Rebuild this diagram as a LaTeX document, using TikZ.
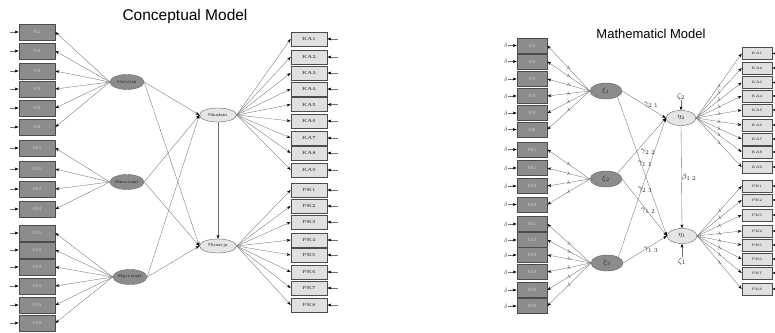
\documentclass[tikz,border=0pt]{standalone}
\usepackage{fontspec}
\newfontfamily\titlefont{Liberation Sans}
\usetikzlibrary{arrows.meta,shapes.geometric,calc}
\begin{document}
\begin{tikzpicture}[x=1pt,y=-1pt,
  lbox/.style={draw=black!70, line width=0.7pt, fill=black!45, minimum width=36pt, minimum height=16pt, inner sep=0pt, text=black!22, font=\titlefont\fontsize{4.5}{4.5}\selectfont},
  rbox/.style={draw=black!70, line width=0.7pt, fill=black!12, minimum width=36pt, minimum height=14pt, inner sep=0pt, text=black!70, font=\bfseries\fontsize{4.5}{4.5}\selectfont},
  mlbox/.style={lbox, minimum width=30pt, minimum height=15pt},
  mrbox/.style={rbox, minimum width=30pt, minimum height=12pt},
  lell/.style={ellipse, draw=black!60, line width=0.4pt, fill=black!45, minimum width=34pt, minimum height=15pt, inner sep=0pt, font=\ttfamily\fontsize{4.5}{4.5}\selectfont, text=black!85},
  rell/.style={ellipse, draw=black!60, line width=0.4pt, fill=black!10, minimum width=37pt, minimum height=14pt, inner sep=0pt, font=\ttfamily\fontsize{4.5}{4.5}\selectfont, text=black!85},
  mlell/.style={lell, minimum width=32pt, minimum height=16pt, font=\fontsize{7}{7}\selectfont},
  mrell/.style={rell, minimum width=30pt, minimum height=15pt, font=\fontsize{7}{7}\selectfont},
  arr/.style={-{Stealth[length=4pt,width=2.8pt,black]}, draw=black!55, line width=0.35pt},
  lam/.style={font=\fontsize{5.5}{5.5}\selectfont, inner sep=0.3pt, text=black!75},
  glab/.style={font=\fontsize{8.5}{8.5}\selectfont, inner sep=0pt, text=black!85},
  ttl/.style={font=\titlefont\fontsize{15.5}{15.5}\selectfont, inner sep=0pt}
]
\useasboundingbox (0,0) rectangle (775,332);

% ================= Conceptual model =================
\node[ttl] (t1) at (185,16) {Conceptual Model};

\foreach \n/\yy in {KI1/32,KI2/51,KI3/71,KI4/89,KI5/108,KI6/127,KE1/148,KE2/169,KE3/189,KE4/209,KS1/233,KS2/250,KS3/267,KS4/286,KS5/305,KS6/323}{
  \node[lbox] (c\n) at (37,\yy) {\n};
  \coordinate (ci\n) at (10,\yy);
  \draw[arr] (ci\n) -- (c\n.west);
}
\foreach \n/\yy in {KA1/39,KA2/57,KA3/73,KA4/89,KA5/104.5,KA6/121,KA7/138,KA8/153,KA9/170,PK1/190,PK2/206,PK3/222,PK4/240,PK5/255,PK6/272,PK7/288,PK8/305}{
  \node[rbox] (c\n) at (309,\yy) {\n};
  \coordinate (ci\n) at (338,\yy);
  \draw[arr] (ci\n) -- (c\n.east);
}

\node[lell] (cKI) at (127,82) {KIntelek};
\node[lell] (cKE) at (127,182) {KEmosional};
\node[lell] (cKS) at (130,277) {KSpiritual};
\node[rell] (cPA) at (218,115) {PAkademi};
\node[rell] (cPK) at (218,246) {PKinerja};

\foreach \n in {KI1,KI2,KI3,KI4,KI5,KI6} \draw[arr] (cKI.west) -- (c\n.east);
\foreach \n in {KE1,KE2,KE3,KE4} \draw[arr] (cKE.west) -- (c\n.east);
\foreach \n in {KS1,KS2,KS3,KS4,KS5,KS6} \draw[arr] (cKS.west) -- (c\n.east);
\foreach \n in {KA1,KA2,KA3,KA4,KA5,KA6,KA7,KA8,KA9} \draw[arr] (cPA.east) -- (c\n.west);
\foreach \n in {PK1,PK2,PK3,PK4,PK5,PK6,PK7,PK8} \draw[arr] (cPK.east) -- (c\n.west);

\foreach \s in {cKI,cKE,cKS}{
  \draw[arr] (\s.east) -- (cPA.west);
  \draw[arr] (\s.east) -- (cPK.west);
}
\draw[arr] (cPA.south) -- (cPK.north);

% ================= Mathematical model =================
\node[ttl, font=\titlefont\fontsize{13}{13}\selectfont] (t2) at (651,34) {Mathematicl Model};

\foreach \n/\yy in {KI1/45.5,KI2/61.5,KI3/79,KI4/96,KI5/113,KI6/129.5,KE1/149.5,KE2/168,KE3/186,KE4/204.5,KS1/224,KS2/240,KS3/255,KS4/272,KS5/290,KS6/306}{
  \node[mlbox] (m\n) at (532,\yy) {\n};
  \node[font=\fontsize{6.5}{6.5}\selectfont, inner sep=0pt, text=black!75] (d\n) at (506,\yy) {$\delta$};
  \draw[arr] (d\n.east) -- (m\n.west);
}
\foreach \n/\yy in {KA1/53.5,KA2/68,KA3/82.5,KA4/96,KA5/110,KA6/125,KA7/139,KA8/152,KA9/167,PK1/186,PK2/200,PK3/215,PK4/231,PK5/245,PK6/259,PK7/273,PK8/289}{
  \node[mrbox, font=\bfseries\fontsize{3.5}{3.5}\selectfont] (m\n) at (757,\yy) {\n};
  \coordinate (mi\n) at (779,\yy);
  \draw[arr] (mi\n) -- (m\n.east);
}

\node[mlell] (xi1) at (606,91) {$\xi_1$};
\node[mlell] (xi2) at (606,179) {$\xi_2$};
\node[mlell] (xi3) at (607,263) {$\xi_3$};
\node[mrell] (eta2) at (681,118) {$\eta_2$};
\node[mrell] (eta1) at (682,236) {$\eta_1$};

\foreach \n in {KI1,KI2,KI3,KI4,KI5,KI6} \draw[arr] (xi1.west) -- node[lam, pos=0.5]{$\lambda$} (m\n.east);
\foreach \n in {KE1,KE2,KE3,KE4} \draw[arr] (xi2.west) -- node[lam, pos=0.5]{$\lambda$} (m\n.east);
\foreach \n in {KS1,KS2,KS3,KS4,KS5,KS6} \draw[arr] (xi3.west) -- node[lam, pos=0.5]{$\lambda$} (m\n.east);
\foreach \n in {KA1,KA2,KA3,KA4,KA5,KA6,KA7,KA8,KA9} \draw[arr] (eta2.east) -- node[lam, pos=0.5]{$\lambda$} (m\n.west);
\foreach \n in {PK1,PK2,PK3,PK4,PK5,PK6,PK7,PK8} \draw[arr] (eta1.east) -- node[lam, pos=0.5]{$\lambda$} (m\n.west);

\draw[arr] (xi1.east) -- (eta2.west);
\draw[arr] (xi1.south east) -- (eta1.west);
\draw[arr] (xi2.north east) -- (eta2.west);
\draw[arr] (xi2.east) -- (eta1.west);
\draw[arr] (xi3.north east) -- (eta2.west);
\draw[arr] (xi3.east) -- (eta1.west);
\draw[arr] (eta2.south) -- (eta1.north);

\node[glab] (z2) at (681,96) {$\zeta_2$};
\node[glab] (z1) at (682,261) {$\zeta_1$};
\draw[arr] (z2.south) -- (eta2.north);
\draw[arr] (z1.north) -- (eta1.south);

\node[glab] (g21) at (651,105) {$\gamma_{2\;1}$};
\node[glab] (g22) at (648,152) {$\gamma_{2\;2}$};
\node[glab] (g11) at (645,164) {$\gamma_{1\;1}$};
\node[glab] (g23) at (645,190) {$\gamma_{2\;3}$};
\node[glab] (g12) at (648,211) {$\gamma_{1\;2}$};
\node[glab] (g13) at (651,250) {$\gamma_{1\;3}$};
\node[glab] (b12) at (689,177) {$\beta_{1\;2}$};
\end{tikzpicture}
\end{document}
